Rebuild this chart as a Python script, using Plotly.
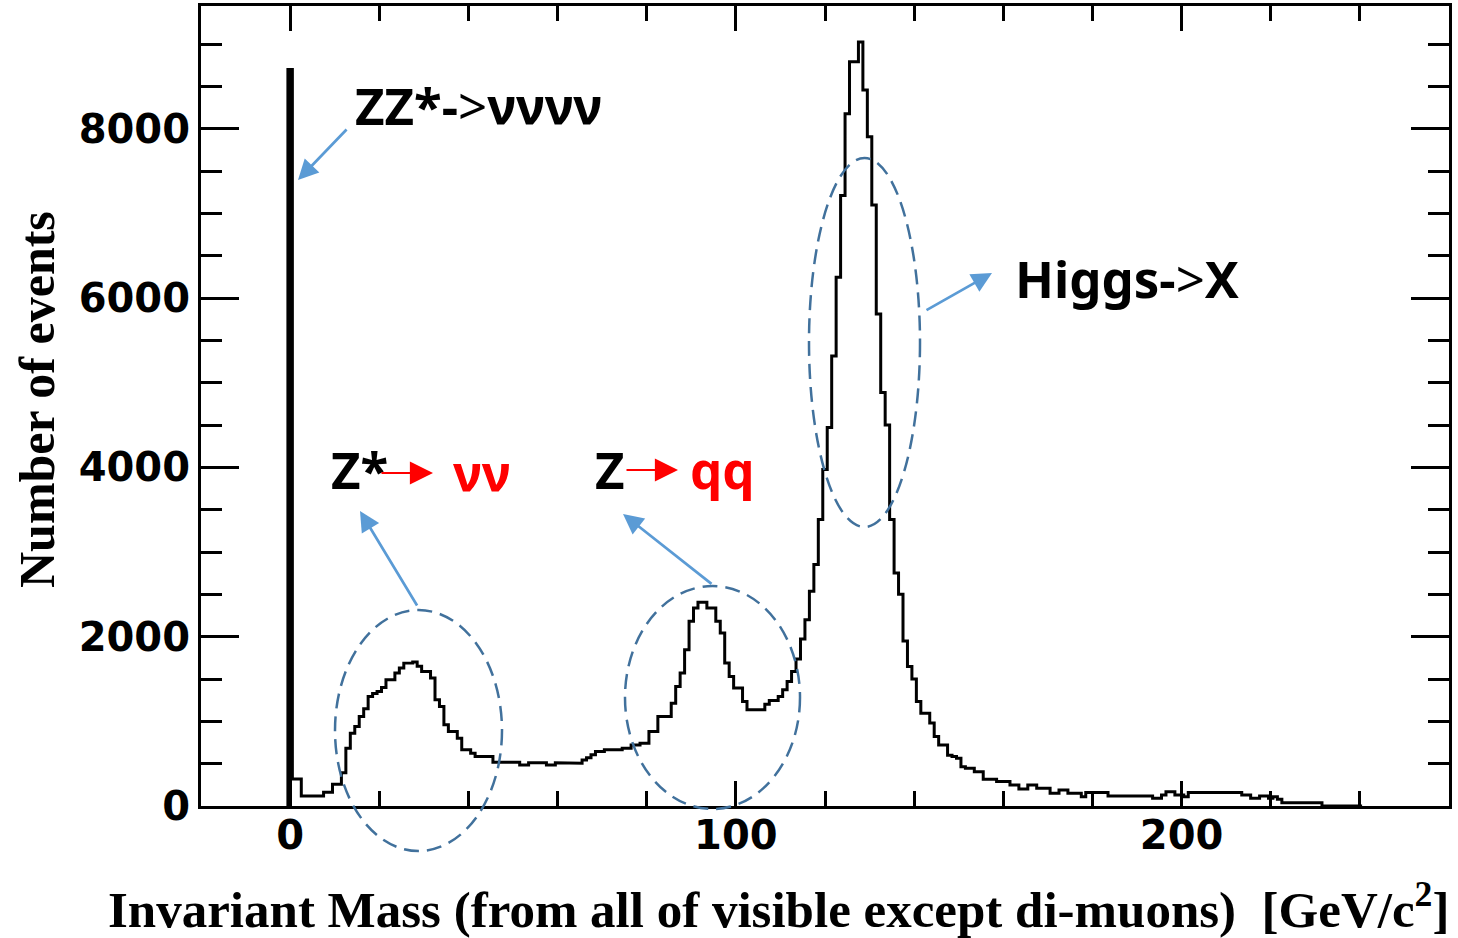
import numpy as np
import plotly.graph_objects as go

# ---------------- data ----------------
# 1 GeV bins centred on integer masses 0..240 GeV
bin_centers = list(range(0, 241))
counts = (
    [8700, 320, 320, 118, 118, 118, 118, 118, 162, 162,          # 0-9
     257, 257, 394, 683, 860, 938, 1057, 1150, 1293, 1330,       # 10-19
     1352, 1400, 1491, 1491, 1570, 1630, 1688, 1690, 1700, 1650, # 20-29
     1589, 1589, 1511, 1254, 1175, 959, 880, 880, 801, 663,      # 30-39
     663, 624, 584, 584, 584, 584, 517, 517, 517, 517,           # 40-49
     517, 517, 485, 485, 512, 512, 512, 512, 485, 485,           # 50-59
     512, 512, 512, 512, 512, 505, 544, 570, 604, 643,           # 60-69
     643, 663, 663, 663, 663, 683, 683, 722, 722, 742,           # 70-79
     742, 880, 880, 1057, 1057, 1057, 1215, 1412, 1570, 1846,    # 80-89
     2181, 2340, 2406, 2406, 2340, 2340, 2181, 2044, 1688, 1530, # 90-99
     1393, 1393, 1234, 1136, 1136, 1136, 1136, 1203, 1246, 1246, # 100-109
     1293, 1372, 1471, 1589, 1736, 1973, 2201, 2536, 2852, 3385, # 110-119
     3976, 4470, 5317, 6245, 7211, 8178, 8790, 8790, 9026, 8459, # 120-129
     7905, 7100, 5811, 4884, 4500, 3385, 2753, 2500, 1950, 1649, # 130-139
     1500, 1234, 1097, 1097, 979, 820, 722, 722, 600, 584,       # 140-149
     564, 465, 446, 446, 406, 406, 316, 316, 316, 288,           # 150-159
     288, 288, 249, 249, 200, 200, 249, 249, 209, 209,           # 160-169
     209, 150, 150, 189, 189, 150, 150, 150, 110, 158,           # 170-179
     158, 158, 158, 158, 118, 118, 118, 118, 118, 118,           # 180-189
     118, 118, 118, 118, 91, 91, 130, 169, 169, 130,             # 190-199
     130, 110, 158, 158, 158, 158, 158, 158, 158, 158,           # 200-209
     158, 158, 158, 158, 130, 130, 91, 91, 118, 118,             # 210-219
     91, 110, 79, 39, 39, 39, 39, 39, 39, 39,                    # 220-229
     39, 39, 0, 0, 0, 0, 0, 0, 0, 0,                             # 230-239
     0]                                                          # 240
)
bin_width = 1.0

x_tick_vals = [0, 100, 200]
x_tick_text = ["0", "100", "200"]
y_tick_vals = [0, 2000, 4000, 6000, 8000]
y_tick_text = ["0", "2000", "4000", "6000", "8000"]

x_title = "Invariant Mass (from all of visible except di-muons) \u00a0[GeV/c<sup>2</sup>]"
y_title = "Number of events"

# ---------------- build step outline ----------------
centers = np.array(bin_centers, dtype=float)
vals = np.array(counts, dtype=float)
edges = np.concatenate([centers - bin_width / 2, [centers[-1] + bin_width / 2]])
xs = np.repeat(edges, 2)
ys = np.concatenate([[0], np.repeat(vals, 2), [0]])

fig = go.Figure()
# the single ZZ*->nunununu bin at zero mass is rendered solid, as in the original
fig.add_trace(go.Bar(x=centers[:1], y=vals[:1], width=bin_width,
                     marker=dict(color="black", line=dict(width=0)),
                     hoverinfo="skip", showlegend=False))
fig.add_trace(go.Scatter(x=xs, y=ys, mode="lines",
                         line=dict(color="black", width=3),
                         hoverinfo="skip", showlegend=False))

W, H = 1458, 938
L, R, T, B = 201, 9, 6, 132
PW, PH = W - L - R, H - T - B


def px(x):
    return (x - L) / PW


def py(y):
    return (H - B - y) / PH


tickfont = dict(family="DejaVu Sans", size=40, color="black", weight="bold")

fig.update_layout(
    width=W, height=H,
    margin=dict(l=L, r=R, t=T, b=B, pad=0, autoexpand=False),
    paper_bgcolor="white", plot_bgcolor="white",
    showlegend=False, bargap=0,
    xaxis=dict(range=[-20, 260], tickvals=x_tick_vals, ticktext=x_tick_text,
               ticks="inside", ticklen=25, tickwidth=3, tickcolor="black",
               showline=True, linewidth=3, linecolor="black", mirror="ticks",
               showgrid=False, zeroline=False, tickfont=tickfont,
               ticklabelstandoff=-8, automargin=False,
               minor=dict(dtick=20, tick0=0, ticks="inside", ticklen=15,
                          tickwidth=3, tickcolor="black", showgrid=False)),
    yaxis=dict(range=[0, 9450], tickvals=y_tick_vals, ticktext=y_tick_text,
               ticks="inside", ticklen=38, tickwidth=3, tickcolor="black",
               showline=True, linewidth=3, linecolor="black", mirror="ticks",
               showgrid=False, zeroline=False, tickfont=tickfont,
               ticklabelstandoff=0, automargin=False,
               minor=dict(dtick=500, tick0=0, ticks="inside", ticklen=21,
                          tickwidth=3, tickcolor="black", showgrid=False)),
)

ann = []
serif_y = dict(family="Liberation Serif", size=50, color="black", weight="bold")
serif_x = dict(family="Liberation Serif", size=51, color="black", weight="bold")
ann.append(dict(text=y_title, x=px(37), y=py(400), xref="paper", yref="paper",
                textangle=-90, showarrow=False, font=serif_y,
                xanchor="center", yanchor="middle"))
ann.append(dict(text=x_title, x=px(778), y=py(906), xref="paper", yref="paper",
                showarrow=False, font=serif_x, xanchor="center", yanchor="middle"))

sans = dict(family="Noto Sans", size=51, color="black")
red = dict(family="Noto Sans", size=51, color="#ff0000")
texts = [
    ("<b>ZZ*-</b>&gt;<b>νννν</b>", 353, 105, sans),
    ("<b>Higgs-</b>&gt;<b>X</b>", 1013, 278, sans),
    ("<b>Z*</b>", 329, 469, sans),
    ("<b>νν</b>", 451, 472, red),
    ("<b>Z</b>", 593, 469, sans),
    ("<b>qq</b>", 688, 469, red),
]
for t, x, y, f in texts:
    ann.append(dict(text=t, x=px(x), y=py(y), xref="paper", yref="paper",
                    showarrow=False, font=f, xanchor="left", yanchor="middle"))

blue = "#5b9bd5"
arrows = [
    ((298, 180), (348, 128), blue, 2.7, 1.5),
    ((360, 511), (418, 607), blue, 2.7, 1.5),
    ((623, 514), (713, 585), blue, 2.7, 1.5),
    ((992, 273), (925, 311), blue, 2.7, 1.5),
    ((433, 473), (380, 473), "#ff0000", 2.2, 2.1),
    ((678, 470), (625, 470), "#ff0000", 2.2, 2.1),
]
for (hx, hy), (tx, ty), c, w, s in arrows:
    ann.append(dict(text="", x=px(hx), y=py(hy), xref="paper", yref="paper",
                    ax=tx - hx, ay=ty - hy, showarrow=True, arrowhead=2,
                    arrowsize=s, arrowwidth=w, arrowcolor=c, standoff=0))
fig.update_layout(annotations=ann)

ell_color = "#41719c"
ellipses = [(335, 502, 610, 851), (625, 800, 586, 809), (809, 920, 158, 527)]
for x0, x1, y0, y1 in ellipses:
    fig.add_shape(type="circle", xref="paper", yref="paper",
                  x0=px(x0), x1=px(x1), y0=py(y1), y1=py(y0),
                  line=dict(color=ell_color, width=2.5, dash="15px,8px"))

fig.write_html("out.html",
               config={"displayModeBar": False},
               post_script="document.body.style.margin='0px';"
                           "document.body.style.overflow='hidden';")
